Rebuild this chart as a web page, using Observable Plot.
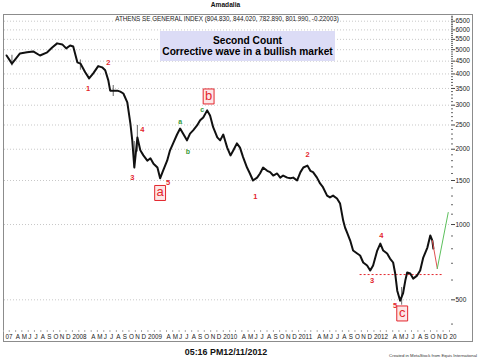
<!DOCTYPE html>
<html><head><meta charset="utf-8">
<script src="https://cdn.jsdelivr.net/npm/d3@7"></script>
<script src="https://cdn.jsdelivr.net/npm/@observablehq/plot@0.6"></script>
<style>
body{margin:0;background:#fff;font-family:"Liberation Sans",Arial,sans-serif;}
#wrap{position:relative;width:480px;height:360px;overflow:hidden;background:#fff;}
#title{position:absolute;left:0;width:451px;top:0;text-align:center;font-weight:bold;font-size:6.6px;line-height:10px;color:#111;}
#frame{position:absolute;left:3px;top:14px;width:468px;height:326px;border:1px solid #8c8c8c;}
#chart{position:absolute;left:3px;top:14px;}
#index{position:absolute;left:3px;width:448px;top:15px;text-align:center;font-size:6.3px;line-height:8px;color:#222;}
#box{position:absolute;left:160px;top:31px;width:175px;height:30px;background:#dcdcf6;text-align:center;font-weight:bold;font-size:10.2px;line-height:11px;padding-top:4px;box-sizing:border-box;color:#000;white-space:nowrap;}
#time{position:absolute;left:0;width:452px;top:346px;text-align:center;font-weight:bold;font-size:8.9px;line-height:12px;color:#111;}
#credit{position:absolute;right:3px;top:353px;font-size:4.3px;line-height:6px;color:#333;}
</style></head>
<body>
<div id="wrap">
  <div id="title">Amadalia</div>
  <div id="frame"></div>
  <div id="chart"></div>
  <div id="index">ATHENS SE GENERAL INDEX (804.830, 844.020, 782.890, 801.990, -0.22003)</div>
  <div id="box">Second Count<br>Corrective wave in a bullish market</div>
  <div id="time">05:16 PM12/11/2012</div>
  <div id="credit">Created in MetaStock from Equis International</div>
</div>
<script>
// ---- price series (closes) ----
const closeDates = ["2007-02-16","2007-03-14","2007-04-22","2007-05-26","2007-06-25","2007-07-28","2007-09-01","2007-09-25","2007-10-19","2007-11-13","2007-12-02","2007-12-21",
"2008-01-05","2008-01-25","2008-02-09","2008-03-03","2008-03-22","2008-04-11","2008-05-05","2008-05-24","2008-06-08","2008-06-23","2008-07-02","2008-07-17","2008-08-06","2008-08-20","2008-09-04","2008-09-23","2008-10-08","2008-10-17","2008-10-27","2008-11-11","2008-11-25","2008-12-10","2008-12-29",
"2009-01-13","2009-01-28","2009-02-16","2009-03-01","2009-03-15","2009-04-04","2009-04-18","2009-05-03","2009-05-22","2009-06-06","2009-06-20","2009-07-09","2009-07-24","2009-08-08","2009-08-27","2009-09-11","2009-09-26","2009-10-15","2009-10-29","2009-11-13","2009-12-03","2009-12-17",
"2010-01-01","2010-01-20","2010-02-05","2010-02-19","2010-03-08","2010-03-23","2010-04-07","2010-04-26","2010-05-10","2010-05-25","2010-06-14","2010-06-28","2010-07-13","2010-08-02","2010-08-16","2010-08-31","2010-09-19","2010-10-04","2010-10-18","2010-11-07","2010-11-22","2010-12-06","2010-12-25",
"2011-01-10","2011-01-24","2011-02-13","2011-02-27","2011-03-12","2011-03-31","2011-04-15","2011-04-29","2011-05-19","2011-06-02","2011-06-17","2011-07-06","2011-07-21","2011-08-05","2011-08-14","2011-08-24","2011-09-08","2011-09-22","2011-10-12","2011-10-26","2011-11-10","2011-11-29","2011-12-14","2011-12-28",
"2012-01-17","2012-02-01","2012-02-15","2012-03-05","2012-03-19","2012-04-03","2012-04-13","2012-04-23","2012-05-07","2012-05-21","2012-06-01","2012-06-10","2012-06-25","2012-07-09","2012-07-28","2012-08-12","2012-08-27","2012-09-16","2012-09-30","2012-10-10","2012-10-15"];
const closeValues = [4742,4400,4830,4880,4920,4740,4880,5100,5300,5250,5060,5200,
5150,4450,4400,4060,3840,4020,4300,4250,4140,3770,3430,3430,3430,3400,3340,3080,2530,2170,1690,2230,1980,1890,1800,
1840,1750,1690,1530,1640,1800,1980,2110,2290,2420,2310,2170,2310,2380,2490,2610,2680,2860,2730,2450,2230,2170,
2290,2030,1890,1980,2110,2030,1860,1690,1600,1500,1540,1600,1690,1640,1620,1570,1600,1540,1570,1540,1530,1540,1500,
1620,1690,1720,1640,1620,1540,1460,1410,1305,1283,1305,1270,1213,1037,973,929,863,787,766,752,705,686,655,686,
787,839,787,766,731,705,637,544,496,530,597,643,637,608,625,655,738,809,904,863,802];

// ---- high/low spikes visible as grey bars ----
const spikeDates = ["2007-03-14","2008-02-09","2008-07-17","2008-10-27","2008-11-11","2012-05-14"];
const spikeLows  = [4300,4140,3250,1690,1950,476];
const spikeHighs = [4750,4550,3600,2150,2490,560];

// ---- projection lines ----
const redProjDates = ["2012-10-10","2012-11-03"];
const redProjValues = [863,667];
const greenProjDates = ["2012-11-03","2012-12-26"];
const greenProjValues = [667,1117];
const supportLevel = 631;
const supportFrom = "2011-10-26";
const supportTo = "2012-12-02";

// ---- wave labels ----
const waveNumText  = ["1","2","3","4","5","1","2","3","4","5"];
const waveNumDates = ["2008-03-17","2008-06-23","2008-10-17","2008-12-05","2009-04-09","2010-06-05","2011-02-13","2011-12-23","2012-02-06","2012-04-13"];
const waveNumValues = [3480,4446,1542,2399,1472,1294,1905,597,904,474];
const subWaveText  = ["a","b","c"];
const subWaveDates = ["2009-06-06","2009-07-14","2009-09-21"];
const subWaveValues = [2582,1959,2884];
const boxWaveText  = ["a","b","c"];
const boxWaveDates = ["2009-03-01","2009-10-22","2012-05-17"];
const boxWaveValues = [1337,3251,441];

// ---- axes ----
const yMajorTicks = [500,1000,1500,2000,2500,3000,3500,4000,4500,5000,5500,6000,6500];
const yMinorTicks = d3.range(400, 6900, 100).filter(v => !yMajorTicks.includes(v));
const monthLetters = ["","","","A","M","J","J","A","S","O","N","D"];
const years = [2008,2009,2010,2011,2012,2013];
const yearLabels = ["2008","2009","2010","2011","2012","20"];
const firstYearLabel = "07";
const xStart = "2007-02-06", xEnd = "2013-01-06";
const yDomain = [377, 6850];

const series = closeDates.map((d,i) => ({date:new Date(d), close:closeValues[i]}));
const spikes = spikeDates.map((d,i) => ({date:new Date(d), low:spikeLows[i], high:spikeHighs[i]}));
const redProj = redProjDates.map((d,i) => ({date:new Date(d), v:redProjValues[i]}));
const greenProj = greenProjDates.map((d,i) => ({date:new Date(d), v:greenProjValues[i]}));
const waveNums = waveNumText.map((t,i) => ({t, date:new Date(waveNumDates[i]), v:waveNumValues[i]}));
const subWaves = subWaveText.map((t,i) => ({t, date:new Date(subWaveDates[i]), v:subWaveValues[i]}));
const boxWaves = boxWaveText.map((t,i) => ({t, date:new Date(boxWaveDates[i]), v:boxWaveValues[i]}));
const monthTicks = d3.utcMonth.range(new Date(Date.UTC(2007,1,1)), new Date(Date.UTC(2013,0,2)));
const fmtMonth = d => d.getUTCMonth() === 0 ? yearLabels[years.indexOf(d.getUTCFullYear())] : monthLetters[d.getUTCMonth()];

const boxSymbol = {draw(ctx, size){ const r = Math.sqrt(size/Math.PI); const w = r*1.45, h = r*2; ctx.rect(-w/2,-h/2,w,h); }};
const red = "#e3262d", green = "#3a9c3a";

const chart = Plot.plot({
  width: 470, height: 327,
  marginTop: 1, marginBottom: 11, marginLeft: 1, marginRight: 23,
  style: {fontFamily: "'Liberation Sans', Arial, sans-serif", background: "transparent", color: "#222"},
  x: {type: "utc", domain: [new Date(xStart), new Date(xEnd)]},
  y: {type: "log", domain: yDomain},
  marks: [
    Plot.gridY(yMajorTicks, {stroke: "#c8c8c8", strokeOpacity: 1, strokeDasharray: "1,2"}),
    Plot.ruleY([supportLevel], {x1: new Date(supportFrom), x2: new Date(supportTo), stroke: red, strokeDasharray: "2,2", strokeWidth: 1}),
    Plot.ruleX(spikes, {x: "date", y1: "low", y2: "high", stroke: "#808080", strokeWidth: 1.2}),
    Plot.line(series, {x: "date", y: "close", stroke: "#111", strokeWidth: 2}),
    Plot.line(redProj, {x: "date", y: "v", stroke: "#e05050", strokeWidth: 1}),
    Plot.line(greenProj, {x: "date", y: "v", stroke: "#5cc05c", strokeWidth: 1}),
    Plot.text(waveNums, {x: "date", y: "v", text: "t", fill: red, fontWeight: "bold", fontSize: 7.5}),
    Plot.text(subWaves, {x: "date", y: "v", text: "t", fill: green, fontWeight: "bold", fontSize: 7}),
    Plot.dot(boxWaves, {x: "date", y: "v", symbol: boxSymbol, r: 7.5, fill: "#fde6e6", stroke: red, strokeWidth: 1}),
    Plot.text(boxWaves, {x: "date", y: "v", text: "t", fill: red, fontSize: 13, dy: -1}),
    Plot.axisY(yMinorTicks, {anchor: "right", tickSize: 2, tickFormat: () => "", stroke: "#666", label: null}),
    Plot.axisY(yMajorTicks, {anchor: "right", tickSize: 4, tickPadding: 1, tickFormat: d => String(d), fontSize: 6.5, stroke: "#444", fill: "#222", label: null}),
    Plot.axisX(monthTicks, {anchor: "bottom", tickSize: 2, tickPadding: 2, tickFormat: fmtMonth, textAnchor: "start", fontSize: 6.3, stroke: "#aaa", fill: "#222", label: null}),
    Plot.text([firstYearLabel], {text: d => d, frameAnchor: "bottom-left", textAnchor: "start", lineAnchor: "top", dy: 4, dx: 1, fontSize: 6.3, fill: "#222"})
  ]
});
document.getElementById("chart").appendChild(chart);
</script>
</body></html>
